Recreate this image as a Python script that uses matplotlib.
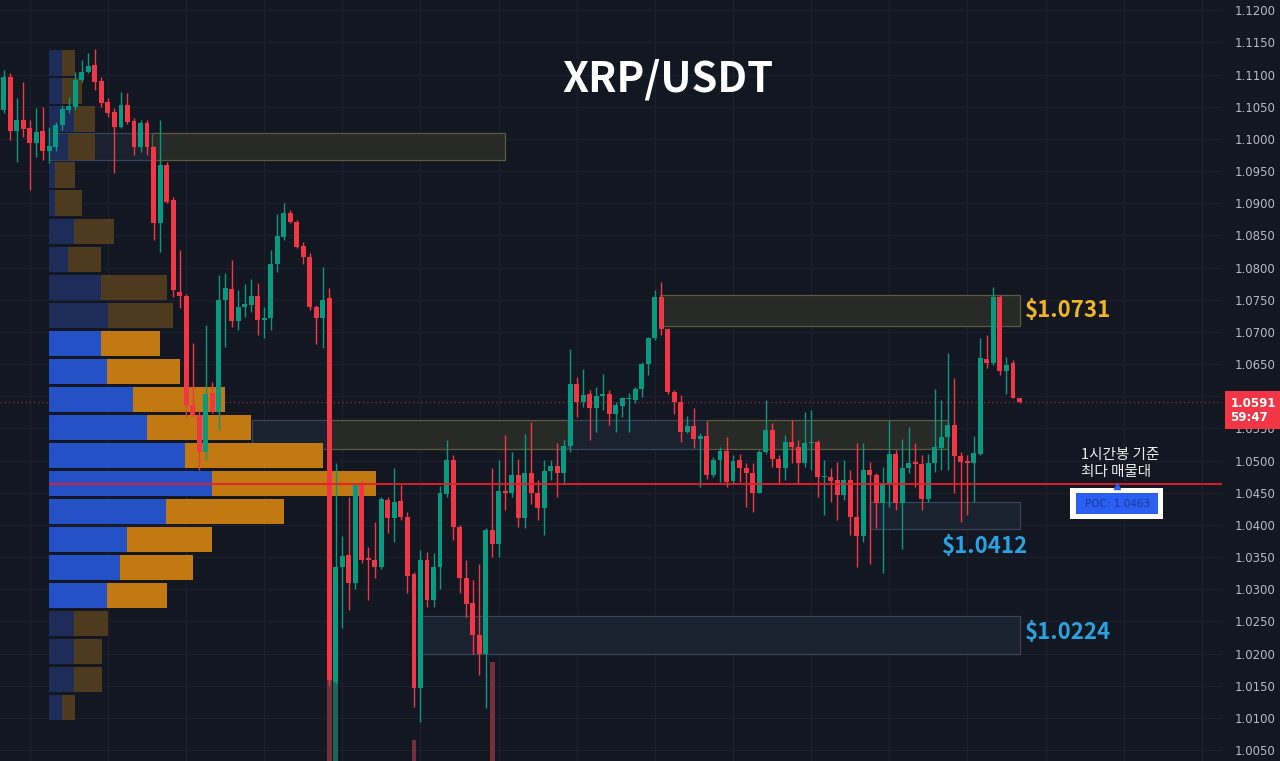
import numpy as np
import matplotlib
matplotlib.use("Agg")
import matplotlib.pyplot as plt
from matplotlib.patches import Rectangle
import matplotlib.transforms as mtransforms

plt.rcParams['font.family'] = ['Noto Sans CJK KR', 'DejaVu Sans']

# ---------------- data (1h candles, XRP/USDT) ----------------
opens = [1.1045, 1.1096, 1.1012, 1.1030, 1.1017, 1.0994, 1.1012, 1.0981, 1.0988, 1.1021,
         1.1045, 1.1050, 1.1092, 1.1104, 1.1115, 1.1090, 1.1057, 1.1042, 1.1019, 1.1053,
         1.1028, 1.0988, 1.1025, 1.0988, 1.0869, 1.0960, 1.0905, 1.0762, 1.0756, 1.0586,
         1.0571, 1.0514, 1.0605, 1.0576, 1.0750, 1.0766, 1.0717, 1.0738, 1.0742, 1.0756,
         1.0718, 1.0721, 1.0805, 1.0847, 1.0885, 1.0871, 1.0833, 1.0817, 1.0739, 1.0722,
         1.0752, 1.0156, 1.0335, 1.0353, 1.0309, 1.0464, 1.0348, 1.0345, 1.0334, 1.0439,
         1.0411, 1.0437, 1.0413, 1.0324, 1.0147, 1.0346, 1.0284, 1.0334, 1.0448, 1.0501,
         1.0396, 1.0318, 1.0278, 1.0229, 1.0199, 1.0392, 1.0371, 1.0453, 1.0449, 1.0477,
         1.0410, 1.0481, 1.0449, 1.0426, 1.0484, 1.0492, 1.0480, 1.0522, 1.0619, 1.0591,
         1.0603, 1.0581, 1.0600, 1.0604, 1.0573, 1.0585, 1.0595, 1.0594, 1.0611, 1.0650,
         1.0690, 1.0754, 1.0704, 1.0607, 1.0591, 1.0545, 1.0554, 1.0533, 1.0538, 1.0477,
         1.0501, 1.0515, 1.0469, 1.0501, 1.0488, 1.0480, 1.0450, 1.0514, 1.0548, 1.0502,
         1.0488, 1.0529, 1.0521, 1.0497, 1.0527, 1.0529, 1.0474, 1.0475, 1.0470, 1.0446,
         1.0470, 1.0412, 1.0383, 1.0486, 1.0477, 1.0434, 1.0465, 1.0511, 1.0434, 1.0488,
         1.0498, 1.0494, 1.0440, 1.0497, 1.0520, 1.0537, 1.0555, 1.0507, 1.0499, 1.0496,
         1.0511, 1.0658, 1.0651, 1.0754, 1.0639, 1.0651, 1.0597]
highs = [1.1107, 1.1102, 1.1063, 1.1089, 1.1029, 1.1048, 1.1050, 1.1019, 1.1026, 1.1052,
         1.1065, 1.1104, 1.1122, 1.1133, 1.1140, 1.1096, 1.1063, 1.1048, 1.1073, 1.1071,
         1.1032, 1.1029, 1.1029, 1.0989, 1.1029, 1.0964, 1.0910, 1.0827, 1.0759, 1.0683,
         1.0578, 1.0710, 1.0622, 1.0788, 1.0791, 1.0812, 1.0765, 1.0775, 1.0782, 1.0776,
         1.0739, 1.0827, 1.0884, 1.0901, 1.0889, 1.0874, 1.0840, 1.0822, 1.0742, 1.0801,
         1.0768, 1.0496, 1.0382, 1.0444, 1.0465, 1.0470, 1.0366, 1.0405, 1.0443, 1.0443,
         1.0488, 1.0462, 1.0420, 1.0327, 1.0361, 1.0358, 1.0356, 1.0460, 1.0532, 1.0508,
         1.0400, 1.0345, 1.0314, 1.0340, 1.0395, 1.0488, 1.0501, 1.0540, 1.0514, 1.0503,
         1.0541, 1.0560, 1.0470, 1.0501, 1.0501, 1.0527, 1.0532, 1.0673, 1.0630, 1.0642,
         1.0609, 1.0615, 1.0635, 1.0609, 1.0591, 1.0599, 1.0605, 1.0615, 1.0653, 1.0692,
         1.0765, 1.0777, 1.0706, 1.0609, 1.0602, 1.0569, 1.0581, 1.0543, 1.0560, 1.0506,
         1.0521, 1.0537, 1.0508, 1.0511, 1.0496, 1.0496, 1.0516, 1.0594, 1.0558, 1.0508,
         1.0540, 1.0563, 1.0532, 1.0576, 1.0578, 1.0532, 1.0501, 1.0488, 1.0498, 1.0501,
         1.0485, 1.0527, 1.0527, 1.0498, 1.0480, 1.0490, 1.0563, 1.0516, 1.0534, 1.0552,
         1.0527, 1.0508, 1.0511, 1.0612, 1.0594, 1.0667, 1.0628, 1.0514, 1.0508, 1.0538,
         1.0690, 1.0695, 1.0770, 1.0757, 1.0661, 1.0656, 1.0597]
lows = [1.1040, 1.0998, 1.0964, 1.1003, 1.0920, 1.0972, 1.0967, 1.0962, 1.0982, 1.1014,
        1.1040, 1.1045, 1.1089, 1.1102, 1.1076, 1.1050, 1.1034, 1.0947, 1.1017, 1.1024,
        1.0975, 1.0980, 1.0975, 1.0843, 1.0824, 1.0900, 1.0754, 1.0737, 1.0568, 1.0568,
        1.0485, 1.0501, 1.0574, 1.0547, 1.0677, 1.0708, 1.0703, 1.0723, 1.0731, 1.0695,
        1.0690, 1.0703, 1.0793, 1.0843, 1.0869, 1.0830, 1.0806, 1.0734, 1.0682, 1.0675,
        1.0151, 1.0153, 1.0239, 1.0268, 1.0301, 1.0341, 1.0283, 1.0317, 1.0331, 1.0387,
        1.0374, 1.0407, 1.0294, 1.0117, 1.0094, 1.0273, 1.0273, 1.0301, 1.0443, 1.0376,
        1.0294, 1.0257, 1.0200, 1.0167, 1.0115, 1.0350, 1.0350, 1.0423, 1.0444, 1.0397,
        1.0395, 1.0433, 1.0407, 1.0384, 1.0470, 1.0444, 1.0464, 1.0514, 1.0568, 1.0584,
        1.0532, 1.0545, 1.0578, 1.0555, 1.0545, 1.0568, 1.0545, 1.0589, 1.0599, 1.0633,
        1.0687, 1.0695, 1.0604, 1.0573, 1.0529, 1.0543, 1.0519, 1.0459, 1.0472, 1.0475,
        1.0467, 1.0459, 1.0464, 1.0467, 1.0428, 1.0420, 1.0449, 1.0511, 1.0490, 1.0464,
        1.0470, 1.0496, 1.0464, 1.0490, 1.0485, 1.0444, 1.0415, 1.0436, 1.0407, 1.0439,
        1.0384, 1.0335, 1.0374, 1.0340, 1.0395, 1.0325, 1.0428, 1.0423, 1.0363, 1.0480,
        1.0459, 1.0423, 1.0436, 1.0483, 1.0485, 1.0485, 1.0449, 1.0405, 1.0415, 1.0436,
        1.0508, 1.0644, 1.0648, 1.0633, 1.0604, 1.0597, 1.0590]
closes = [1.1096, 1.1012, 1.1030, 1.1016, 1.0994, 1.1011, 1.0981, 1.0989, 1.1021, 1.1046,
          1.1051, 1.1092, 1.1104, 1.1113, 1.1089, 1.1056, 1.1041, 1.1018, 1.1053, 1.1026,
          1.0988, 1.1025, 1.0987, 1.0869, 1.0960, 1.0902, 1.0765, 1.0756, 1.0586, 1.0571,
          1.0514, 1.0604, 1.0576, 1.0750, 1.0768, 1.0717, 1.0738, 1.0743, 1.0756, 1.0718,
          1.0722, 1.0805, 1.0849, 1.0885, 1.0871, 1.0832, 1.0817, 1.0738, 1.0722, 1.0750,
          1.0159, 1.0335, 1.0352, 1.0310, 1.0462, 1.0346, 1.0345, 1.0335, 1.0440, 1.0410,
          1.0436, 1.0412, 1.0321, 1.0147, 1.0346, 1.0283, 1.0335, 1.0449, 1.0501, 1.0396,
          1.0318, 1.0277, 1.0229, 1.0199, 1.0392, 1.0371, 1.0453, 1.0449, 1.0477, 1.0410,
          1.0480, 1.0449, 1.0426, 1.0484, 1.0492, 1.0480, 1.0522, 1.0619, 1.0591, 1.0602,
          1.0581, 1.0600, 1.0603, 1.0573, 1.0586, 1.0597, 1.0597, 1.0612, 1.0650, 1.0690,
          1.0754, 1.0704, 1.0607, 1.0591, 1.0545, 1.0554, 1.0533, 1.0538, 1.0477, 1.0501,
          1.0515, 1.0467, 1.0500, 1.0488, 1.0480, 1.0450, 1.0514, 1.0548, 1.0502, 1.0488,
          1.0529, 1.0521, 1.0497, 1.0528, 1.0529, 1.0475, 1.0476, 1.0469, 1.0446, 1.0470,
          1.0412, 1.0383, 1.0486, 1.0477, 1.0434, 1.0465, 1.0510, 1.0434, 1.0488, 1.0497,
          1.0494, 1.0440, 1.0497, 1.0521, 1.0537, 1.0555, 1.0507, 1.0498, 1.0496, 1.0512,
          1.0659, 1.0651, 1.0754, 1.0639, 1.0649, 1.0598, 1.0591]

# volume profile rows, bottom row -> top row
vp_buy = [13.3, 25.3, 25.3, 25.3, 58.6, 71.3, 78.6, 117.0, 163.0, 136.3, 98.0, 84.6,
          58.6, 52.0, 59.0, 52.0, 19.3, 25.3, 6.3, 6.3, 19.6, 25.3, 13.3, 13.3]
vp_sell = [13.3, 27.7, 27.7, 34.3, 59.4, 72.7, 85.0, 118.3, 164.0, 137.7, 104.3, 91.7,
           72.7, 59.3, 65.6, 66.0, 33.3, 40.3, 27.0, 20.3, 26.7, 21.0, 19.7, 13.3]
vp_value_area = [False] * 4 + [True] * 10 + [False] * 10
poc_price = 1.0463

# volume bars that reach into view (candle index, volume in % of pane height)
vol_index = [50, 51, 63, 75]
vol_value = [10.6, 10.5, 2.8, 13.0]

# zones (candle index span, price range, kind)
zone_start = [6.9, 22.8, 38.1, 50.1, 86.7, 108.0, 100.8, 133.1, 63.9]
zone_end = [22.8, 77.0, 50.1, 86.7, 108.0, 145.0, 156.1, 156.1, 156.1]
zone_low = [1.0967, 1.0967, 1.0518, 1.0518, 1.0518, 1.0518, 1.0709, 1.0394, 1.0199]
zone_high = [1.1009, 1.1009, 1.0563, 1.0563, 1.0563, 1.0563, 1.0757, 1.0435, 1.0258]
zone_kind = ['blue', 'olive', 'blue', 'olive', 'blue', 'olive', 'olive', 'blue', 'blue']

level_values = [1.0731, 1.0412, 1.0224]
price_ticks = np.round(np.arange(1.005, 1.1201, 0.005), 4)

# ---------------- style ----------------
BG = '#131722'
UP = '#089981'
DN = '#f23645'
GRID = '#1b202c'

fig = plt.figure(figsize=(12.8, 7.61), dpi=100, facecolor=BG)
ax = fig.add_axes([0, 0, 1222 / 1280, 1])
ax.set_facecolor(BG)
ax.set_xlim(-0.58, 187.1)
ax.set_ylim(1.0033, 1.1216)
for s in ax.spines.values():
    s.set_visible(False)

ax.set_yticks(price_ticks)
ax.set_yticklabels([f'{t:.4f}' for t in price_ticks])
ax.yaxis.tick_right()
ax.tick_params(axis='y', length=0, pad=9, labelsize=8.5, labelcolor='#b7bac2')
for lab in ax.get_yticklabels():
    lab.set_family('DejaVu Sans')
ax.set_xticks(np.arange(4, 188, 12))
ax.tick_params(axis='x', length=0, labelbottom=False)
ax.grid(True, color=GRID, lw=1, zorder=0)
ax.set_axisbelow(True)

o = np.array(opens); h = np.array(highs); l = np.array(lows); c = np.array(closes)
x = np.arange(len(o))
up = c >= o
cols = np.where(up, UP, DN)

# zones
for x0, x1, lo, hi, k in zip(zone_start, zone_end, zone_low, zone_high, zone_kind):
    if k == 'olive':
        fc, ec = '#272a27', '#5c5b3e'
    else:
        fc, ec = '#1a2230', '#374558'
    ax.add_patch(Rectangle((x0, lo), x1 - x0, hi - lo, facecolor=fc, edgecolor=ec,
                           lw=0.9, zorder=1))

# last price dotted line
ax.axhline(c[-1], color='#7a2c38', lw=1, ls=(0, (1, 2)), zorder=1.2)

# volume bars at the bottom
blend = mtransforms.blended_transform_factory(ax.transData, ax.transAxes)
for i, v in zip(vol_index, vol_value):
    vc = '#1f6459' if up[i] else '#73303a'
    ax.add_patch(Rectangle((i - 0.38, 0), 0.76, v / 100, transform=blend,
                           facecolor=vc, edgecolor='none', zorder=1.5))

# volume profile
VP_LEFT = 6.9
VP_SCALE = 1 / 6.51
edges = np.linspace(l.min(), h.max(), len(vp_buy) + 1)
rh = edges[1] - edges[0]
centers = (edges[:-1] + edges[1:]) / 2
buy = np.array(vp_buy) * VP_SCALE
sell = np.array(vp_sell) * VP_SCALE
va = np.array(vp_value_area)
ax.barh(centers, buy, left=VP_LEFT, height=rh * 0.9,
        color=np.where(va, '#2551c6', '#1d2c58'), zorder=2)
ax.barh(centers, sell, left=VP_LEFT + buy, height=rh * 0.9,
        color=np.where(va, '#c27911', '#4e3a1e'), zorder=2)

# candles
ax.vlines(x, l, h, colors=cols, lw=1, zorder=3)
body_lo = np.minimum(o, c)
body_h = np.maximum(np.abs(c - o), 0.00012)
ax.bar(x, body_h, bottom=body_lo, width=0.76, color=cols, edgecolor='none', zorder=3.1)

# POC line
ax.hlines(poc_price, VP_LEFT, 187.1, color='#e3202a', lw=1.5, zorder=4, alpha=0.9)

# level labels
ax.text(156.9, 1.0733, f'${level_values[0]:.4f}', color='#f1b526', fontsize=16,
        fontweight='bold', ha='left', va='center', zorder=6)
ax.text(150.7, 1.0367, f'${level_values[1]:.4f}', color='#2aa3e2', fontsize=16,
        fontweight='bold', ha='center', va='center', zorder=6)
ax.text(156.9, 1.0232, f'${level_values[2]:.4f}', color='#2aa3e2', fontsize=16,
        fontweight='bold', ha='left', va='center', zorder=6)

# POC annotation
ax.text(165.4, 1.0496, '1시간봉 기준\n최다 매물대', color='#ececec', fontsize=10.5,
        ha='left', va='center', linespacing=1.3, zorder=6, fontweight='medium')
ax.add_patch(Rectangle((163.8, 1.0409), 14.3, 0.0048, facecolor='white',
                       edgecolor='none', zorder=6))
ax.add_patch(Rectangle((164.7, 1.0417), 12.6, 0.0032, facecolor='#2b5ff2',
                       edgecolor='none', zorder=6.1))
ax.text(171.0, 1.0433, f'POC: {poc_price:.4f}', color='#173a96', fontsize=7.5,
        ha='center', va='center', zorder=6.2, family='DejaVu Sans')
ax.plot([171.0], [poc_price - 0.0002], marker='^', ms=4, color='#2b5ff2', zorder=6)

# last price tag
trans = mtransforms.blended_transform_factory(ax.transAxes, ax.transData)
ax.annotate(f'{c[-1]:.4f}\n59:47', xy=(1.0, c[-1]), xycoords=trans,
            xytext=(6, -6), textcoords='offset points', ha='left', va='center',
            fontsize=8.5, fontweight='bold', color='white', family='DejaVu Sans',
            linespacing=1.15, annotation_clip=False, zorder=10,
            bbox=dict(boxstyle='square,pad=0.45', fc='#f23645', ec='none'))

# title
fig.text(667.5 / 1280, 1 - 80 / 761, 'XRP/USDT', ha='center', va='center',
         fontsize=30, fontweight='bold', color='white')

fig.savefig('out.png', dpi=100, facecolor=BG)
